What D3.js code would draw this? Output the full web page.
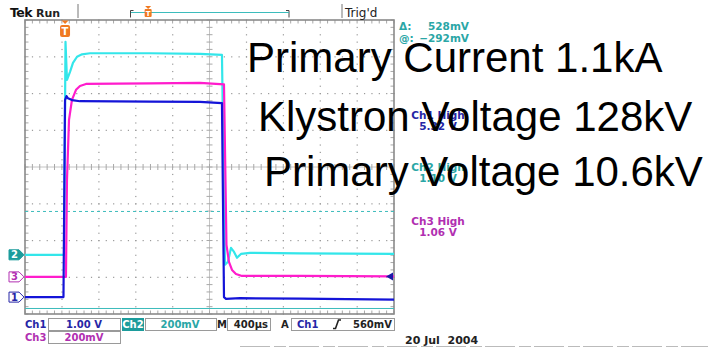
<!DOCTYPE html>
<html>
<head>
<meta charset="utf-8">
<script src="https://cdn.jsdelivr.net/npm/d3@7"></script>
<style>
body { margin: 0; background: #fff; }
svg { display: block; font-family: "DejaVu Sans", sans-serif; }
</style>
</head>
<body>
<svg id="scope" width="708" height="347"></svg>
<script>
// traces: [time µs, volts above the channel's ground marker]
var ch1Trace = [[0,0],[417,0],[434,5.36],[450,5.47],[466,5.41],[509,5.36],[596,5.33],[1355,5.32],[1897,5.31],[2135,5.28],
  [2157,0],[2179,-0.05],[2331,-0.03],[2981,-0.04],[4000,-0.07]]
var ch2Trace = [[0,0],[423,0],[439,1.159],[455,0.952],[488,0.996],[520,1.045],[564,1.078],[618,1.091],[705,1.097],
  [1355,1.097],[1897,1.094],[2135,1.088],[2168,-0.054],[2200,-0.038],[2233,0.038],[2266,0.016],[2298,-0.016],
  [2341,0.005],[2439,0.011],[2981,0.008],[4000,0.005]]
var ch3Trace = [[0,0],[444,0],[455,0.528],[477,0.854],[509,0.963],[553,1.018],[596,1.039],[661,1.05],[1355,1.053],
  [1897,1.056],[2157,1.048],[2184,0.174],[2211,0.082],[2244,0.038],[2287,0.016],[2352,0.005],[2981,0.005],[4000,0.003]]

var chNames = ['Ch1', 'Ch2', 'Ch3']
var voltsPerDiv = [1.0, 0.2, 0.2]
var groundDiv = [-3.54, -2.39, -2.99]      // marker position in divisions from centre
var highLabels = ['5.32 V', '1.10 V', '1.06 V']
var cursorMv = [236, -292]                  // ch2 cursors
var triggerTime = 434
var triggerLevel = 0.56                     // volts on ch1
var scaleLabels = ['1.00 V', '200mV', '200mV']
var timeLabel = '400µs'
var titleLines = ['Primary Current 1.1kA', 'Klystron Voltage 128kV', 'Primary Voltage 10.6kV']

var colors = ['#1414d8', '#33e6ea', '#ff1ccc']
var textColors = ['#2626a6', '#2aa6a6', '#b12fb1']

var svg = d3.select('#scope')
var x = d3.scaleLinear().domain([0, 4000]).range([25, 394])
var y = d3.scaleLinear().domain([-4, 4]).range([314, 20])

// grid dots
var grid = svg.append('g').attr('fill', '#9a9a9a')
d3.range(1, 10).filter(i => i != 5).forEach(i => {
  d3.range(0, 41).forEach(k => {
    grid.append('rect').attr('x', x(i * 400) - 0.5).attr('y', y(-4 + k * 0.2) - 0.5).attr('width', 1.2).attr('height', 1.2)
  })
})
d3.range(-3, 4).filter(j => j != 0).forEach(j => {
  d3.range(0, 51).forEach(k => {
    grid.append('rect').attr('x', x(k * 80) - 0.5).attr('y', y(j) - 0.5).attr('width', 1.2).attr('height', 1.2)
  })
})

// centre axes with minor ticks
var axes = svg.append('g').attr('stroke', '#a8a8a8').attr('stroke-width', 1)
axes.append('line').attr('x1', x(0)).attr('x2', x(4000)).attr('y1', y(0)).attr('y2', y(0)).attr('stroke', '#c4c4c4')
axes.append('line').attr('x1', x(2000)).attr('x2', x(2000)).attr('y1', y(-4)).attr('y2', y(4)).attr('stroke', '#c4c4c4')
d3.range(0, 51).forEach(k => {
  axes.append('line').attr('x1', x(k * 80)).attr('x2', x(k * 80)).attr('y1', y(0) - 3).attr('y2', y(0) + 3)
  axes.append('line').attr('x1', x(k * 80)).attr('x2', x(k * 80)).attr('y1', y(4)).attr('y2', y(4) + 3.5)
  axes.append('line').attr('x1', x(k * 80)).attr('x2', x(k * 80)).attr('y1', y(-4)).attr('y2', y(-4) - 3.5)
})
d3.range(0, 41).forEach(k => {
  axes.append('line').attr('y1', y(-4 + k * 0.2)).attr('y2', y(-4 + k * 0.2)).attr('x1', x(2000) - 3).attr('x2', x(2000) + 3)
  axes.append('line').attr('y1', y(-4 + k * 0.2)).attr('y2', y(-4 + k * 0.2)).attr('x1', x(0)).attr('x2', x(0) + 3.5)
  axes.append('line').attr('y1', y(-4 + k * 0.2)).attr('y2', y(-4 + k * 0.2)).attr('x1', x(4000)).attr('x2', x(4000) - 3.5)
})

svg.append('rect')
  .attr('x', x(0)).attr('y', y(4))
  .attr('width', x(4000) - x(0)).attr('height', y(-4) - y(4))
  .attr('fill', 'none').attr('stroke', '#8a8a8a').attr('stroke-width', 1.6)

// cursors (ch2)
cursorMv.forEach((mv, i) => {
  var cy = y(groundDiv[1] + mv / 1000 / voltsPerDiv[1])
  svg.append('line')
    .attr('x1', x(0)).attr('x2', x(4000)).attr('y1', cy).attr('y2', cy)
    .attr('stroke', '#3cbcbc').attr('stroke-width', 1)
    .attr('stroke-dasharray', i == 0 ? '3,3' : null)
})

// traces
var traces = [ch1Trace, ch2Trace, ch3Trace]
var order = [1, 2, 0]
order.forEach(c => {
  var line = d3.line()
    .x(d => x(d[0]))
    .y(d => y(groundDiv[c] + d[1] / voltsPerDiv[c]))
  svg.append('path')
    .attr('d', line(traces[c]))
    .attr('fill', 'none')
    .attr('stroke', colors[c])
    .attr('stroke-width', 2.2)
    .attr('stroke-linejoin', 'round')
})

// ground markers
var markers = svg.append('g').attr('font-size', 10).attr('font-weight', 'bold').attr('text-anchor', 'middle')
;[1, 2, 0].forEach(c => {
  var gy = y(groundDiv[c])
  markers.append('path')
    .attr('d', `M9,${gy - 5}H19L24,${gy}L19,${gy + 5}H9Z`)
    .attr('fill', c == 1 ? '#1c9c9c' : '#fff')
    .attr('stroke', c == 1 ? '#1c9c9c' : textColors[c])
  markers.append('text').attr('x', 14.5).attr('y', gy + 3.6)
    .attr('fill', c == 1 ? '#fff' : textColors[c]).text(c + 1)
})

// trigger level arrow (ch1)
var ty = y(groundDiv[0] + triggerLevel / voltsPerDiv[0])
svg.append('path').attr('d', `M386,${ty}L393,${ty - 4}L393,${ty + 4}Z`).attr('fill', '#1a1aa8')

// trigger position marker
var tx = x(triggerTime)
svg.append('path').attr('d', `M${tx - 3.5},20.5H${tx + 3.5}L${tx},24Z`).attr('fill', '#f07a22')
svg.append('rect').attr('x', tx - 5).attr('y', 25).attr('width', 10).attr('height', 12).attr('rx', 2).attr('fill', '#f07a22')
svg.append('text').attr('x', tx).attr('y', 35).attr('text-anchor', 'middle')
  .attr('font-size', 10).attr('font-weight', 'bold').attr('fill', '#fff').text('T')

// header
svg.append('text').attr('x', 10).attr('y', 17).attr('font-size', 12.5).attr('font-weight', 'bold')
  .attr('letter-spacing', -0.6).attr('fill', '#111').text('Tek')
svg.append('text').attr('x', 36).attr('y', 16.5).attr('font-size', 11).attr('font-weight', 'bold')
  .attr('fill', '#222').text('Run')
svg.append('line').attr('x1', 78).attr('x2', 78).attr('y1', 4).attr('y2', 18).attr('stroke', '#777')
svg.append('line').attr('x1', 342).attr('x2', 342).attr('y1', 4).attr('y2', 18).attr('stroke', '#777')
svg.append('path').attr('d', 'M133.5,10.5H130.5V17.5').attr('fill', 'none').attr('stroke', '#444')
svg.append('path').attr('d', 'M286,10.5H289V17.5').attr('fill', 'none').attr('stroke', '#444')
svg.append('line').attr('x1', 131).attr('x2', 289).attr('y1', 12.5).attr('y2', 12.5).attr('stroke', '#3cbcbc').attr('stroke-width', 1.2)
var hx = 131 + (289 - 131) * triggerTime / 4000
svg.append('path').attr('d', `M${hx - 3},6H${hx + 3}L${hx},9Z`).attr('fill', '#f07a22')
svg.append('rect').attr('x', hx - 3.5).attr('y', 9).attr('width', 7).attr('height', 8).attr('rx', 1).attr('fill', '#f07a22')
svg.append('text').attr('x', hx).attr('y', 16).attr('text-anchor', 'middle')
  .attr('font-size', 7).attr('font-weight', 'bold').attr('fill', '#fff').text('T')
svg.append('text').attr('x', 345).attr('y', 17).attr('font-size', 12).attr('fill', '#222').text("Trig'd")

// cursor readout
var info = svg.append('g').attr('font-size', 10.5).attr('font-weight', 'bold').attr('fill', textColors[1])
info.append('text').attr('x', 399).attr('y', 30).text('Δ:')
info.append('text').attr('x', 469).attr('y', 30).attr('text-anchor', 'end').text((cursorMv[0] - cursorMv[1]) + 'mV')
info.append('text').attr('x', 399).attr('y', 42).text('@:')
info.append('text').attr('x', 469).attr('y', 42).attr('text-anchor', 'end').text('−' + Math.abs(cursorMv[1]) + 'mV')

// high measurements
var highY = [115, 167, 221]
highLabels.forEach((lab, c) => {
  var g = svg.append('g').attr('font-size', 10.5).attr('font-weight', 'bold')
    .attr('fill', textColors[c]).attr('text-anchor', 'middle')
  g.append('text').attr('x', 438).attr('y', highY[c] + 4).text(chNames[c] + ' High')
  g.append('text').attr('x', 438).attr('y', highY[c] + 15).text(lab)
})

// bottom readouts
var foot = svg.append('g').attr('font-size', 10).attr('font-weight', 'bold')
function box(x0, x1, y0) {
  foot.append('rect').attr('x', x0 + 0.5).attr('y', y0 + 0.5).attr('width', x1 - x0).attr('height', 12)
    .attr('fill', '#fff').attr('stroke', '#9a9a9a')
}
box(48, 120, 318)
box(145, 216, 318)
box(227, 270, 318)
box(291, 394, 318)
box(48, 120, 331)
foot.append('text').attr('x', 25).attr('y', 328).attr('fill', textColors[0]).text(chNames[0])
foot.append('text').attr('x', 84).attr('y', 328).attr('text-anchor', 'middle').attr('fill', textColors[0]).text(scaleLabels[0])
foot.append('rect').attr('x', 122).attr('y', 318).attr('width', 22).attr('height', 13).attr('fill', '#1c9c9c')
foot.append('text').attr('x', 133).attr('y', 328).attr('text-anchor', 'middle').attr('fill', '#fff').text(chNames[1])
foot.append('text').attr('x', 180).attr('y', 328).attr('text-anchor', 'middle').attr('fill', textColors[1]).text(scaleLabels[1])
foot.append('text').attr('x', 217).attr('y', 328).attr('fill', '#222').text('M')
foot.append('text').attr('x', 268).attr('y', 328).attr('text-anchor', 'end').attr('fill', '#222').text(timeLabel)
foot.append('text').attr('x', 281).attr('y', 328).attr('fill', '#222').text('A')
foot.append('text').attr('x', 297).attr('y', 328).attr('fill', textColors[0]).text(chNames[0])
foot.append('path').attr('d', 'M333,328.5H335.5L338.5,320H341').attr('fill', 'none').attr('stroke', '#222').attr('stroke-width', 1.6)
foot.append('text').attr('x', 392).attr('y', 328).attr('text-anchor', 'end').attr('fill', '#222').text(Math.round(triggerLevel * 1000) + 'mV')
foot.append('text').attr('x', 25).attr('y', 341).attr('fill', textColors[2]).text(chNames[2])
foot.append('text').attr('x', 84).attr('y', 341).attr('text-anchor', 'middle').attr('fill', textColors[2]).text(scaleLabels[2])
foot.append('text').attr('x', 405).attr('y', 344).attr('font-size', 11).attr('fill', '#222')
  .attr('xml:space', 'preserve').text('20 Jul  2004')
svg.append('line').attr('x1', 240).attr('x2', 708).attr('y1', 346.5).attr('y2', 346.5)
  .attr('stroke', '#bbb').attr('stroke-dasharray', '30,4,12,3')

// overlay title text
var titleX = [247, 258, 264]
var titleY = [72, 131, 186]
titleLines.forEach((t, i) => {
  svg.append('text')
    .attr('x', titleX[i]).attr('y', titleY[i])
    .attr('font-family', '"Liberation Sans", Arial, sans-serif')
    .attr('font-size', 42)
    .attr('fill', '#000')
    .text(t)
})
</script>
</body>
</html>
